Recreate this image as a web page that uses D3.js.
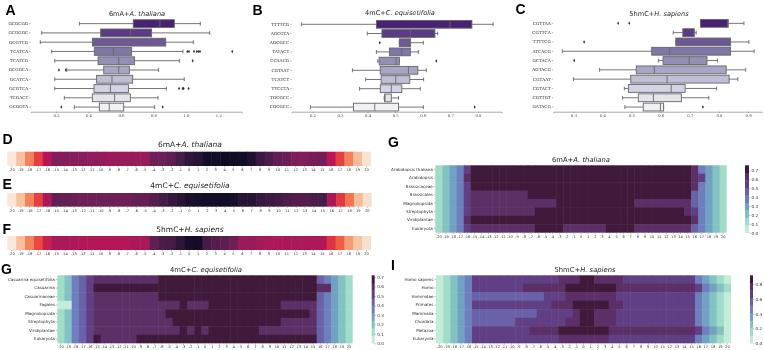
<!DOCTYPE html>
<html>
<head>
<meta charset="utf-8">
<script src="https://cdn.jsdelivr.net/npm/d3@7"></script>
<style>
html, body { margin: 0; padding: 0; background: #fff; }
svg { display: block; filter: blur(0.3px); }
.tick text { fill: #333; }
</style>
</head>
<body>
<script>
// box panels: whisker low, q1, median, q3, whisker high, outliers
const motifsA = ["GCGCGG","GCGGGC","GCGTCG","TCATCA","TCATCG","GCGGCA","GCATCA","GCGTCA","TCGACT","GCGGTA"];
const lowA = [.344,.112,.103,.173,.192,.266,.192,.192,.251,.313];
const q1A = [.676,.475,.424,.436,.459,.494,.45,.434,.424,.467];
const medA = [.84,.658,.66,.553,.586,.586,.545,.535,.561,.528];
const q3A = [.929,.789,.876,.666,.683,.652,.672,.646,.658,.617];
const highA = [1.089,1.147,1.046,.982,.96,.832,.99,.88,.828,.808];
const outA = [[],[],[],[1.009,1.019,1.05,1.067,1.077,1.087,1.286],[1.042],[.218,.26],[],[.958,.98,.986,1.017],[],[.233,.857]];

const motifsB = ["TTTTCG","AGCGTA","AGCGCC","TATACT","CCAACG","CGTAAT","TCATCT","TTCCTA","TGCGCC","CGCGCC"];
const lowB = [.16,.399,.515,.432,.437,.345,.393,.371,.46,.193];
const q1B = [.432,.452,.515,.479,.442,.446,.449,.446,.462,.349];
const medB = [.699,.555,.542,.524,.503,.548,.502,.486,.463,.426];
const q3B = [.778,.644,.556,.555,.515,.582,.553,.524,.486,.512];
const highB = [.855,.654,.602,.584,.515,.613,.603,.591,.512,.602];
const outB = [[],[],[.444],[],[.649],[],[],[],[],[.788]];

const motifsC = ["CGTTAA","CGTTCA","TTTTCG","ATCACG","GCTACA","AGTACG","CGTAAT","CGTACT","CGTTGT","GATACG"];
const lowC = [.737,.643,.652,.262,.592,.39,.3,.475,.469,.477];
const q1C = [.737,.676,.652,.569,.608,.516,.497,.489,.523,.54];
const medC = [.83,.715,.691,.631,.698,.578,.622,.636,.575,.599];
const q3C = [.832,.715,.84,.84,.759,.825,.835,.684,.671,.61];
const highC = [.886,.722,.903,.921,.795,.892,.865,.792,.765,.61];
const outC = [[.454,.492],[],[.337],[],[.303],[],[],[],[],[.745]];

// single row strips
const positions = [-20,-19,-18,-17,-16,-15,-14,-13,-12,-11,-10,-9,-8,-7,-6,-5,-4,-3,-2,-1,0,1,2,3,4,5,6,7,8,9,10,11,12,13,14,15,16,17,18,19,20];
const heatD = [.01,.11,.25,.4,.56,.67,.67,.66,.66,.64,.64,.62,.62,.62,.62,.62,.72,.72,.76,.82,.88,.9,.95,.95,.97,.96,.95,.92,.85,.8,.75,.73,.68,.67,.7,.71,.55,.4,.25,.12,.02];
const heatE = [.01,.11,.25,.4,.58,.75,.74,.73,.72,.72,.72,.72,.72,.72,.74,.74,.78,.82,.86,.9,.93,.94,.95,.95,.95,.93,.9,.9,.86,.84,.83,.8,.78,.78,.8,.81,.58,.42,.28,.12,.03];
const heatF = [.01,.11,.25,.38,.5,.58,.58,.57,.56,.56,.56,.56,.56,.56,.57,.58,.75,.8,.82,.88,.94,.95,.82,.78,.76,.72,.62,.62,.6,.58,.57,.58,.58,.57,.57,.56,.43,.33,.2,.1,.03];

// taxa heatmaps
const taxaAt = ["Arabidopsis thaliana","Arabidopsis","Brassicaceae","Brassicales","Magnoliopsida","Streptophyta","Viridiplantae","Eukaryota"];
const heatAt = [
  [.12,.2,.3,.4,.55,.72,.72,.72,.72,.72,.72,.72,.72,.72,.72,.72,.72,.72,.72,.72,.72,.72,.72,.72,.72,.72,.72,.72,.72,.72,.72,.72,.72,.72,.72,.72,.64,.4,.3,.2,.12],
  [.12,.2,.3,.4,.64,.72,.72,.72,.72,.72,.72,.72,.72,.72,.72,.72,.72,.72,.72,.72,.72,.72,.72,.72,.72,.72,.72,.72,.72,.72,.72,.72,.72,.72,.72,.72,.64,.55,.3,.2,.12],
  [.12,.2,.3,.4,.55,.72,.72,.72,.72,.72,.72,.72,.72,.72,.72,.72,.72,.72,.72,.72,.72,.72,.72,.72,.72,.72,.72,.72,.72,.72,.72,.72,.72,.72,.72,.72,.64,.4,.3,.2,.12],
  [.12,.2,.3,.4,.55,.64,.64,.64,.64,.64,.64,.64,.64,.72,.72,.72,.72,.72,.72,.72,.72,.72,.72,.72,.72,.72,.72,.72,.72,.72,.72,.72,.72,.72,.72,.72,.45,.4,.3,.2,.12],
  [.12,.2,.3,.4,.55,.64,.64,.64,.64,.64,.64,.64,.64,.64,.64,.64,.64,.72,.72,.72,.72,.72,.72,.72,.72,.72,.72,.72,.64,.64,.64,.64,.64,.64,.64,.64,.5,.4,.3,.2,.12],
  [.12,.2,.3,.4,.55,.64,.64,.64,.64,.64,.64,.64,.64,.64,.72,.72,.72,.72,.72,.72,.72,.72,.72,.72,.72,.72,.72,.72,.72,.72,.72,.72,.72,.72,.72,.64,.55,.4,.3,.2,.12],
  [.12,.2,.3,.4,.64,.72,.72,.72,.72,.72,.72,.72,.72,.72,.72,.72,.72,.72,.72,.72,.72,.72,.72,.72,.72,.72,.72,.72,.72,.72,.72,.72,.72,.72,.72,.72,.64,.4,.3,.2,.12],
  [.12,.2,.3,.4,.55,.64,.64,.64,.64,.64,.64,.64,.64,.64,.72,.72,.72,.72,.64,.64,.64,.64,.64,.64,.72,.72,.72,.72,.64,.64,.64,.64,.64,.64,.64,.64,.5,.4,.3,.2,.12]
];

const taxaCe = ["Casuarina equisetifolia","Casuarina","Casuarinaceae","Fagales","Magnoliopsida","Streptophyta","Viridiplantae","Eukaryota"];
const heatCe = [
  [.12,.2,.35,.44,.52,.6,.6,.6,.6,.6,.6,.6,.6,.6,.68,.68,.68,.68,.68,.68,.68,.68,.68,.68,.68,.68,.68,.68,.68,.68,.68,.68,.68,.68,.68,.68,.44,.35,.28,.2,.12],
  [.12,.2,.35,.44,.52,.68,.68,.68,.68,.68,.68,.68,.68,.68,.68,.68,.68,.68,.68,.68,.68,.68,.68,.68,.68,.68,.68,.68,.68,.68,.68,.68,.68,.68,.68,.68,.6,.6,.28,.2,.12],
  [.12,.2,.35,.44,.52,.6,.6,.6,.6,.6,.6,.6,.6,.6,.68,.68,.68,.68,.68,.68,.68,.68,.68,.68,.68,.68,.68,.68,.68,.68,.68,.68,.68,.68,.68,.68,.44,.35,.28,.2,.12],
  [.06,.07,.35,.44,.52,.6,.6,.6,.6,.6,.6,.6,.6,.6,.6,.6,.6,.68,.6,.6,.6,.68,.68,.68,.68,.68,.68,.68,.68,.68,.68,.6,.6,.6,.6,.6,.44,.35,.28,.2,.12],
  [.12,.2,.35,.44,.52,.6,.6,.6,.6,.6,.6,.6,.6,.6,.6,.68,.68,.68,.68,.68,.68,.68,.68,.68,.68,.68,.68,.68,.68,.68,.68,.68,.68,.68,.68,.6,.44,.35,.28,.2,.12],
  [.12,.2,.35,.44,.52,.6,.6,.6,.6,.6,.6,.6,.6,.6,.6,.6,.68,.68,.68,.68,.68,.68,.68,.68,.68,.68,.68,.68,.68,.68,.68,.6,.6,.6,.6,.6,.44,.35,.28,.2,.12],
  [.12,.2,.35,.44,.52,.6,.6,.6,.6,.6,.6,.6,.6,.6,.6,.6,.6,.68,.6,.68,.6,.68,.68,.68,.68,.68,.68,.68,.6,.6,.6,.6,.6,.6,.6,.6,.44,.35,.28,.2,.12],
  [.12,.2,.35,.44,.52,.68,.6,.6,.6,.6,.6,.68,.68,.68,.68,.68,.68,.68,.68,.68,.68,.68,.68,.68,.68,.68,.68,.68,.68,.68,.68,.68,.68,.68,.68,.68,.44,.35,.28,.2,.12]
];

const taxaHs = ["Homo sapiens","Homo","Hominidae","Primates","Mammalia","Chordata","Metazoa","Eukaryota"];
const heatHs = [
  [.08,.15,.25,.35,.45,.65,.65,.65,.65,.65,.65,.65,.65,.65,.65,.65,.65,.76,.76,.76,.86,.86,.76,.76,.76,.76,.65,.65,.65,.65,.65,.65,.65,.65,.65,.65,.45,.35,.25,.15,.08],
  [.08,.15,.25,.35,.45,.65,.65,.65,.65,.65,.65,.65,.76,.76,.76,.76,.76,.76,.86,.86,.86,.86,.86,.86,.86,.76,.76,.76,.76,.76,.76,.76,.76,.76,.76,.76,.65,.45,.35,.25,.15],
  [.08,.15,.25,.35,.45,.55,.55,.55,.55,.55,.55,.55,.55,.55,.55,.65,.65,.65,.76,.76,.76,.76,.76,.76,.76,.65,.65,.65,.65,.65,.65,.65,.65,.65,.65,.65,.45,.35,.25,.15,.08],
  [.08,.15,.25,.35,.45,.65,.65,.65,.65,.65,.65,.65,.65,.65,.65,.65,.76,.76,.76,.86,.86,.86,.86,.86,.76,.76,.65,.65,.65,.65,.65,.65,.65,.65,.65,.65,.45,.35,.25,.15,.08],
  [.08,.15,.25,.35,.45,.55,.55,.55,.55,.55,.55,.55,.55,.55,.65,.65,.65,.65,.65,.76,.86,.86,.76,.76,.76,.65,.65,.65,.65,.65,.65,.65,.65,.65,.65,.65,.45,.35,.25,.15,.08],
  [.08,.15,.25,.35,.45,.55,.55,.55,.55,.55,.55,.65,.65,.65,.65,.65,.65,.65,.76,.76,.86,.86,.76,.76,.76,.65,.65,.65,.65,.65,.65,.65,.65,.65,.65,.65,.45,.35,.25,.15,.08],
  [.08,.15,.25,.35,.45,.65,.65,.65,.65,.65,.65,.65,.65,.76,.76,.76,.76,.86,.86,.86,.86,.86,.86,.86,.76,.76,.76,.76,.76,.76,.76,.76,.76,.76,.76,.76,.65,.45,.35,.25,.08],
  [.08,.15,.25,.35,.45,.65,.65,.65,.65,.65,.65,.65,.65,.65,.65,.65,.65,.76,.76,.76,.76,.76,.76,.76,.65,.65,.65,.65,.65,.65,.65,.65,.65,.65,.65,.65,.45,.35,.25,.15,.08]
];

const width = 764, height = 350;
var svg = d3.select("body").append("svg").attr("width", width).attr("height", height);
const sansFont = "'DejaVu Sans', sans-serif";
const serifFont = "'DejaVu Serif', serif";

// seaborn desaturates its palettes a bit, do the same to d3's purples
const purples = d3.range(10).map(i => {
    var c = d3.hsl(d3.interpolatePurples(0.95 - i * 0.094));
    c.s = c.s * 0.72;
    return c.formatHex();
});

const rocketStops = ["#03051a","#221331","#451c47","#6a1f56","#921c5b","#b91657","#d92847","#ee4f3e","#f37651","#f6a47c","#f7c9aa","#faebdd"];
const rocket = d3.scaleLinear()
    .domain(rocketStops.map((d, i) => i / (rocketStops.length - 1)))
    .range(rocketStops);

const taxaColors = ["#c3ecd9","#a0dcc8","#83c2c2","#71a2c4","#6d80bd","#6a62a8","#613f85","#5c2f66","#3f1a3a"];

function title(cx, cy, plain, species, size) {
    var t = svg.append("text").attr("x", cx).attr("y", cy)
        .attr("text-anchor", "middle")
        .attr("font-family", sansFont)
        .attr("font-size", size)
        .attr("fill", "#222");
    t.append("tspan").text(plain);
    t.append("tspan").attr("font-style", "italic").text(species);
}

function letter(x, y, s) {
    svg.append("text").attr("x", x).attr("y", y).text(s)
        .attr("font-family", "'Liberation Sans', sans-serif")
        .attr("font-weight", "bold")
        .attr("font-size", 14)
        .attr("fill", "#000");
}

function boxPanel(opt, motifs, low, q1, med, q3, high, out) {
    var x = d3.scaleLinear().domain(opt.xDomain).range([opt.x0, opt.x1]);
    var y = d3.scaleBand().domain(motifs).range([opt.y0, opt.y1]);
    var g = svg.append("g");

    var xAxis = d3.axisBottom(x).tickValues(opt.ticks).tickFormat(d3.format(".1f")).tickSize(1.5).tickPadding(1.5);
    var xG = g.append("g").attr("transform", "translate(0," + opt.y1 + ")").call(xAxis);
    xG.select(".domain").attr("stroke", "#aaa").attr("stroke-width", 1);
    xG.selectAll(".tick line").attr("stroke", "#777").attr("stroke-width", 0.5);
    xG.selectAll("text").attr("font-family", serifFont).attr("font-size", 3.8);

    var yAxis = d3.axisLeft(y).tickSize(1.5).tickPadding(1);
    var yG = g.append("g").attr("transform", "translate(" + opt.x0 + ",0)").call(yAxis);
    yG.select(".domain").remove();
    yG.selectAll(".tick line").attr("stroke", "#777").attr("stroke-width", 0.5);
    yG.selectAll("text").attr("font-family", serifFont).attr("font-size", 4.2);

    motifs.forEach((m, i) => {
        var cy = y(m) + y.bandwidth() / 2;
        var h = y.bandwidth() * 0.84;
        var row = g.append("g").attr("stroke", "#666").attr("stroke-width", 0.9);
        row.append("line").attr("x1", x(low[i])).attr("x2", x(q1[i])).attr("y1", cy).attr("y2", cy);
        row.append("line").attr("x1", x(q3[i])).attr("x2", x(high[i])).attr("y1", cy).attr("y2", cy);
        [low[i], high[i]].forEach(v => {
            row.append("line").attr("x1", x(v)).attr("x2", x(v)).attr("y1", cy - h / 4).attr("y2", cy + h / 4);
        });
        row.append("rect")
            .attr("x", x(q1[i])).attr("y", cy - h / 2)
            .attr("width", x(q3[i]) - x(q1[i])).attr("height", h)
            .attr("fill", purples[i]);
        row.append("line").attr("x1", x(med[i])).attr("x2", x(med[i])).attr("y1", cy - h / 2).attr("y2", cy + h / 2);
        out[i].forEach(v => {
            g.append("path")
                .attr("d", d3.symbol(d3.symbolDiamond, 3.5))
                .attr("transform", "translate(" + x(v) + "," + cy + ")")
                .attr("fill", "#333");
        });
    });
}

function strip(x0, x1, y0, y1, values) {
    var x = d3.scaleBand().domain(positions).range([x0, x1]);
    var g = svg.append("g");
    // cells overlap a little so no seams show between them
    g.selectAll("rect").data(values).enter().append("rect")
        .attr("x", (d, i) => x(positions[i]))
        .attr("y", y0)
        .attr("width", (d, i) => x.bandwidth() + (i < values.length - 1 ? 0.5 : 0))
        .attr("height", y1 - y0)
        .attr("fill", d => rocket(1 - d));
    var axG = g.append("g").attr("transform", "translate(0," + y1 + ")")
        .call(d3.axisBottom(x).tickSize(1.5).tickPadding(1));
    axG.select(".domain").remove();
    axG.selectAll(".tick line").attr("stroke", "#666").attr("stroke-width", 0.4);
    axG.selectAll("text").attr("font-family", sansFont).attr("font-size", 3.6);
}

function taxaHeat(opt, taxa, rows) {
    var x = d3.scaleBand().domain(positions).range([opt.x0, opt.x1]);
    var y = d3.scaleBand().domain(taxa).range([opt.y0, opt.y1]);
    var color = d3.scaleQuantize().domain([0, opt.top]).range(taxaColors);
    var g = svg.append("g");
    rows.forEach((row, r) => {
        g.append("g").selectAll("rect").data(row).enter().append("rect")
            .attr("x", (d, i) => x(positions[i]))
            .attr("y", y(taxa[r]))
            .attr("width", (d, i) => x.bandwidth() + (i < row.length - 1 ? 0.5 : 0))
            .attr("height", y.bandwidth() + (r < rows.length - 1 ? 0.5 : 0))
            .attr("fill", d => color(d));
    });
    var xG = g.append("g").attr("transform", "translate(0," + opt.y1 + ")")
        .call(d3.axisBottom(x).tickSize(1.5).tickPadding(1));
    xG.select(".domain").remove();
    xG.selectAll(".tick line").attr("stroke", "#666").attr("stroke-width", 0.4);
    xG.selectAll("text").attr("font-family", sansFont).attr("font-size", 3.6);
    var yG = g.append("g").attr("transform", "translate(" + opt.x0 + ",0)")
        .call(d3.axisLeft(y).tickSize(1.5).tickPadding(1));
    yG.select(".domain").remove();
    yG.selectAll(".tick line").attr("stroke", "#666").attr("stroke-width", 0.4);
    yG.selectAll("text").attr("font-family", sansFont).attr("font-size", 4.1);

    // colorbar, one rect per palette step
    var cb = d3.scaleLinear().domain([0, opt.top]).range([opt.y1, opt.y0]);
    g.append("g").selectAll("rect").data(taxaColors).enter().append("rect")
        .attr("x", opt.cbX)
        .attr("width", opt.cbW)
        .attr("y", d => cb(color.invertExtent(d)[1]))
        .attr("height", d => cb(color.invertExtent(d)[0]) - cb(color.invertExtent(d)[1]) + 0.3)
        .attr("fill", d => d);
    var cG = g.append("g").attr("transform", "translate(" + (opt.cbX + opt.cbW) + ",0)")
        .call(d3.axisRight(cb).tickValues(opt.cbTicks).tickFormat(d3.format(".1f")).tickSize(1.5).tickPadding(1));
    cG.select(".domain").remove();
    cG.selectAll(".tick line").attr("stroke", "#666").attr("stroke-width", 0.4);
    cG.selectAll("text").attr("font-family", sansFont).attr("font-size", 4.2);
}

// top row
boxPanel({xDomain: [.044, 1.344], x0: 30.7, x1: 241.7, y0: 19, y1: 111.7, ticks: [.2,.4,.6,.8,1,1.2]},
    motifsA, lowA, q1A, medA, q3A, highA, outA);
boxPanel({xDomain: [.125, .886], x0: 291.7, x1: 501.7, y0: 19.7, y1: 111.7, ticks: [.2,.3,.4,.5,.6,.7,.8]},
    motifsB, lowB, q1B, medB, q3B, highB, outB);
boxPanel({xDomain: [.231, .947], x0: 553.3, x1: 761.7, y0: 18.7, y1: 111.7, ticks: [.3,.4,.5,.6,.7,.8,.9]},
    motifsC, lowC, q1C, medC, q3C, highC, outC);
title(137, 15.5, "6mA+", "A. thaliana", 6.6);
title(400, 15, "4mC+", "C. equisetifolia", 6.6);
title(659, 15.5, "5hmC+", "H. sapiens", 6.6);

// strips
strip(7.3, 371, 151.7, 166, heatD);
strip(7.3, 371.7, 193, 206.7, heatE);
strip(7.3, 371, 236, 250, heatF);
title(190, 147, "6mA+", "A. thaliana", 7.5);
title(190, 188, "4mC+", "C. equisetifolia", 7.5);
title(190, 232, "5hmC+", "H. sapiens", 7.5);

// taxa heatmaps
taxaHeat({x0: 435.3, x1: 726.7, y0: 165.3, y1: 232.7, top: .76, cbX: 745, cbW: 4, cbTicks: [0,.1,.2,.3,.4,.5,.6,.7]}, taxaAt, heatAt);
taxaHeat({x0: 57.3, x1: 352.7, y0: 275.3, y1: 343.3, top: .72, cbX: 371.7, cbW: 3, cbTicks: [0,.1,.2,.3,.4,.5,.6,.7]}, taxaCe, heatCe);
taxaHeat({x0: 436, x1: 731, y0: 275.3, y1: 343.3, top: .92, cbX: 750, cbW: 3, cbTicks: [0,.2,.4,.6,.8]}, taxaHs, heatHs);
title(581, 162, "6mA+", "A. thaliana", 6.8);
title(206, 271.5, "4mC+", "C. equisetifolia", 6.8);
title(585, 272, "5hmC+", "H. sapiens", 6.8);

letter(5.5, 14.5, "A");
letter(252.5, 14.5, "B");
letter(515.5, 14, "C");
letter(2.5, 143.5, "D");
letter(2.5, 188.5, "E");
letter(2.5, 233.5, "F");
letter(388, 146.5, "G");
letter(1, 273.5, "G");
letter(391, 270, "I");
</script>
</body>
</html>
